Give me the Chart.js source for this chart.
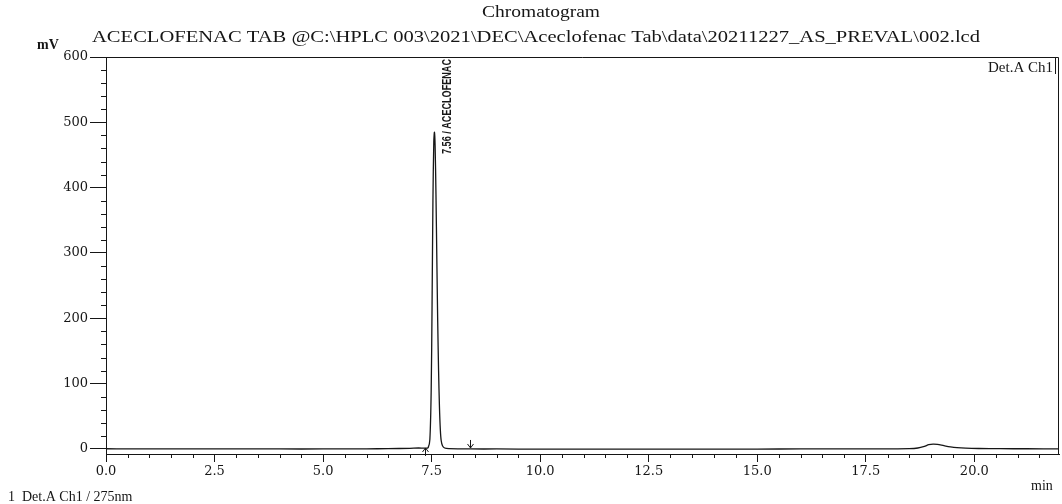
<!DOCTYPE html>
<html>
<head>
<meta charset="utf-8">
<title>Chromatogram</title>
<script src="https://cdn.jsdelivr.net/npm/chart.js@4.4.0/dist/chart.umd.min.js"></script>
<style>
  html, body { margin: 0; padding: 0; background: #ffffff; }
  #chromatogram { display: block; }
</style>
</head>
<body>
<canvas id="chromatogram" width="1062" height="504"></canvas>
<script>
/* --------------------------------- */
/* DATA                              */
/* --------------------------------- */
const retentionTimes = [
  0, 0.5, 1, 2, 3, 4, 5, 6, 6.5, 7.0, 7.2, 7.35, 7.42, 7.46, 7.49, 7.51, 7.53,
  7.55, 7.565, 7.58, 7.6, 7.62, 7.64, 7.66, 7.68, 7.7, 7.72, 7.75, 7.8, 7.9,
  8.2, 8.4, 9, 10, 11, 12, 13, 14, 15, 16, 17, 18, 18.5, 18.7, 18.85, 18.95,
  19.05, 19.15, 19.3, 19.45, 19.6, 19.8, 20.1, 20.6, 21.2, 22,
];
const signalMv = [
  0.3, 0.2, 0.2, 0.1, 0.1, 0, 0, 0.2, 0.5, 1.0, 1.5, 1.2, 2, 15, 90, 220, 380,
  470, 485, 465, 390, 290, 195, 120, 65, 30, 13, 5, 1.5, 0.5,
  0.2, 0, 0, -0.2, -0.2, -0.3, -0.3, -0.2, -0.1, 0, 0, 0.2, 0.5, 1.5, 4, 6.5,
  7.5, 7, 5, 3.2, 2, 1.2, 0.7, 0.4, 0.3, 0.2,
];
const xTickValues = [0, 2.5, 5, 7.5, 10, 12.5, 15, 17.5, 20];
const yTickValues = [0, 100, 200, 300, 400, 500, 600];
const peakLabels = [{ time: 7.56, text: "7.56 / ACECLOFENAC" }];
const baselineStartMarks = [7.35];
const baselineEndMarks = [8.38];

const titleLine1 = "Chromatogram";
const titleLine2 =
  "ACECLOFENAC TAB @C:\\HPLC 003\\2021\\DEC\\Aceclofenac Tab\\data\\20211227_AS_PREVAL\\002.lcd";
const footerText = "1  Det.A Ch1 / 275nm";
const detectorText = "Det.A Ch1";

/* --------------------------------- */
/* DRAW helpers                      */
/* --------------------------------- */
const ink = "#161616";
const serif = "'Liberation Serif', 'Times New Roman', serif";

const drawArrow = (ctx, x, yTip, yTail) => {
  const dir = yTail > yTip ? 1 : -1;
  ctx.beginPath();
  ctx.moveTo(x, yTail);
  ctx.lineTo(x, yTip);
  ctx.moveTo(x - 3, yTip + dir * 4);
  ctx.lineTo(x, yTip);
  ctx.lineTo(x + 3, yTip + dir * 4);
  ctx.stroke();
};

// text stretched horizontally to a given width
const fitText = (ctx, text, cx, y, size, width) => {
  ctx.font = size + "px " + serif;
  const w = ctx.measureText(text).width;
  ctx.save();
  ctx.translate(cx - width / 2, y);
  ctx.scale(width / w, 1);
  ctx.textAlign = "left";
  ctx.fillText(text, 0, 0);
  ctx.restore();
};

const decorations = {
  id: "decorations",
  afterDraw(chart) {
    const { ctx, chartArea: area, scales } = chart;
    const xs = scales.x;
    const ys = scales.y;
    ctx.save();
    ctx.strokeStyle = ink;
    ctx.fillStyle = ink;
    ctx.lineWidth = 1;

    // frame top / right
    ctx.beginPath();
    ctx.moveTo(area.left, area.top + 0.5);
    ctx.lineTo(area.right - 0.5, area.top + 0.5);
    ctx.lineTo(area.right - 0.5, area.bottom);
    ctx.stroke();

    // minor ticks
    ctx.beginPath();
    for (let v = 20; v < 600; v += 20) {
      if (v % 100 === 0) continue;
      const py = Math.round(ys.getPixelForValue(v)) + 0.5;
      ctx.moveTo(area.left - 5, py);
      ctx.lineTo(area.left, py);
    }
    for (let t = 0.5; t < 22; t += 0.5) {
      if (Math.abs(t / 2.5 - Math.round(t / 2.5)) < 1e-6) continue;
      const px = Math.round(xs.getPixelForValue(t)) + 0.5;
      ctx.moveTo(px, area.bottom);
      ctx.lineTo(px, area.bottom + 4);
    }
    ctx.stroke();

    // baseline markers
    const y0 = ys.getPixelForValue(0);
    baselineStartMarks.forEach((t) => {
      const px = Math.round(xs.getPixelForValue(t)) + 0.5;
      drawArrow(ctx, px, y0 - 1, y0 + 7);
    });
    baselineEndMarks.forEach((t) => {
      const px = Math.round(xs.getPixelForValue(t)) + 0.5;
      drawArrow(ctx, px, y0 - 1, y0 - 9);
    });

    // peak labels (condensed, vertical)
    ctx.font = "bold 12px 'Liberation Sans Narrow', 'Liberation Sans', sans-serif";
    ctx.textBaseline = "bottom";
    peakLabels.forEach((p) => {
      const px = xs.getPixelForValue(p.time);
      const w = ctx.measureText(p.text).width;
      ctx.save();
      ctx.translate(px + 19, area.top + 2);
      ctx.rotate(-Math.PI / 2);
      ctx.scale(95 / w, 1);
      ctx.textAlign = "right";
      ctx.fillText(p.text, 0, 0);
      ctx.restore();
    });

    // detector box
    ctx.font = "15px " + serif;
    ctx.textAlign = "right";
    ctx.textBaseline = "alphabetic";
    ctx.fillText(detectorText, area.right - 6, area.top + 15);
    ctx.beginPath();
    ctx.moveTo(area.right - 3.5, area.top);
    ctx.lineTo(area.right - 3.5, area.top + 17);
    ctx.stroke();

    // titles
    fitText(ctx, titleLine1, 541, 17, 16, 118);
    fitText(ctx, titleLine2, 536, 42, 16, 888);

    // axis units + footer
    ctx.font = "bold 14px " + serif;
    ctx.textAlign = "left";
    ctx.fillText("mV", 37, 49);
    ctx.font = "14px " + serif;
    ctx.fillText("min", 1031, 490);
    ctx.fillText(footerText, 8, 501);
    ctx.restore();
  },
};

/* --------------------------------- */
/* CHART                             */
/* --------------------------------- */
const tickFont = { family: "'DejaVu Serif', serif", size: 13 };

const chart = new Chart(document.getElementById("chromatogram"), {
  type: "line",
  data: {
    datasets: [
      {
        data: retentionTimes.map((t, i) => ({ x: t, y: signalMv[i] })),
        borderColor: ink,
        borderWidth: 1.3,
        pointRadius: 0,
        fill: false,
        tension: 0.3,
      },
    ],
  },
  options: {
    responsive: false,
    animation: false,
    devicePixelRatio: 1,
    layout: { padding: { top: 57, left: 0, right: 3, bottom: 0 } },
    plugins: {
      legend: { display: false },
      tooltip: { enabled: false },
      title: { display: false },
    },
    scales: {
      x: {
        type: "linear",
        min: 0,
        max: 21.95,
        afterBuildTicks: (scale) => {
          scale.ticks = xTickValues.map((v) => ({ value: v }));
        },
        afterFit: (scale) => {
          scale.height = 50;
        },
        ticks: {
          color: ink,
          font: tickFont,
          padding: 2,
          maxRotation: 0,
          autoSkip: false,
          callback: (v) => Number(v).toFixed(1),
        },
        grid: {
          display: true,
          drawOnChartArea: false,
          drawTicks: true,
          tickLength: 8,
          tickColor: ink,
        },
        border: { display: true, color: ink, width: 1 },
      },
      y: {
        type: "linear",
        min: -7.7,
        max: 600,
        afterBuildTicks: (scale) => {
          scale.ticks = yTickValues.map((v) => ({ value: v }));
        },
        afterFit: (scale) => {
          scale.width = 106;
        },
        ticks: {
          color: ink,
          font: tickFont,
          padding: 2,
          autoSkip: false,
          callback: (v) => String(v),
        },
        grid: {
          display: true,
          drawOnChartArea: false,
          drawTicks: true,
          tickLength: 16,
          tickColor: ink,
        },
        border: { display: true, color: ink, width: 1 },
      },
    },
  },
  plugins: [decorations],
});
</script>
</body>
</html>
